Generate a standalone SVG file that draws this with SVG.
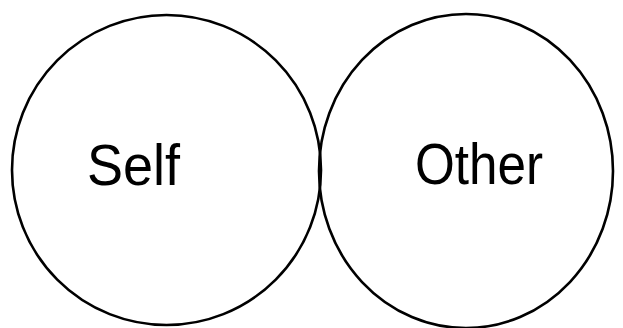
<svg xmlns="http://www.w3.org/2000/svg" width="623" height="328" viewBox="0 0 623 328">
<style>
.c{fill:none;stroke:#000;stroke-width:2.6}
.t{font-family:"Liberation Sans",Arial,sans-serif;font-size:58px;fill:#000}
</style>
<rect width="623" height="328" fill="#fff"/>
<g id="self">
<ellipse class="c" cx="166.5" cy="170" rx="154.5" ry="155"/>
<text class="t" x="87" y="185" textLength="93" lengthAdjust="spacingAndGlyphs">Self</text>
</g>
<g id="other">
<ellipse class="c" cx="466" cy="171" rx="147" ry="157"/>
<text class="t" x="415" y="184" textLength="128" lengthAdjust="spacingAndGlyphs">Other</text>
</g>
<g id="connectors"></g>
</svg>
